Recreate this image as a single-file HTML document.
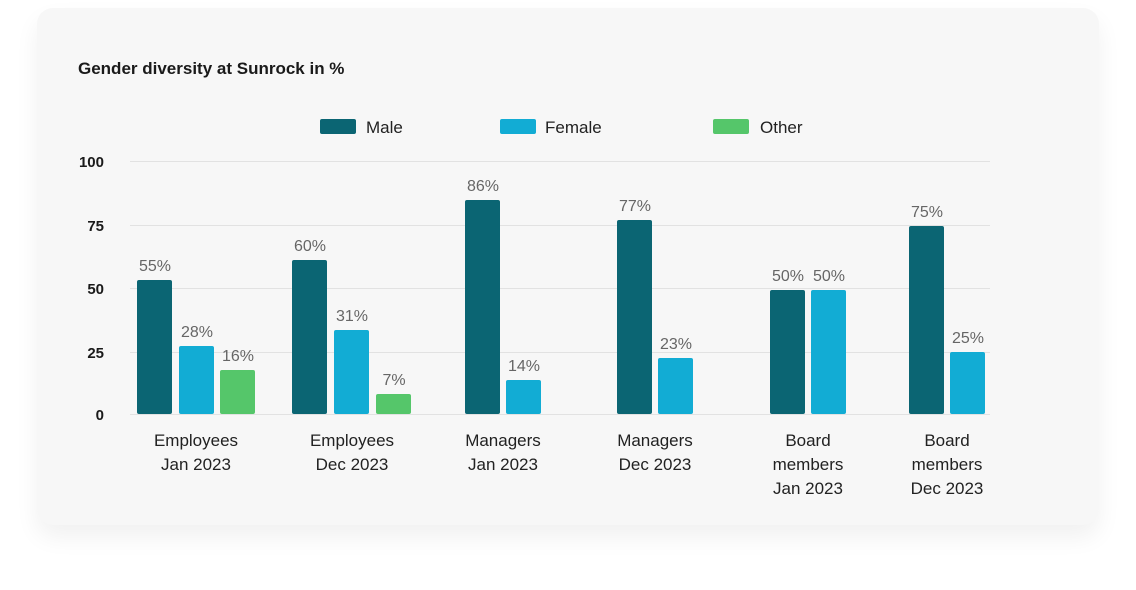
<!DOCTYPE html>
<html><head><style>
body{margin:0;width:1136px;height:590px;background:#fff;font-family:"Liberation Sans",sans-serif;position:relative;overflow:hidden}
.card{position:absolute;left:37px;top:8px;width:1062px;height:517px;background:#f7f7f7;border-radius:16px;box-shadow:0 12px 24px rgba(0,0,0,0.06)}
</style></head><body>
<div class="card"></div>
<svg width="1136" height="590" style="position:absolute;left:0;top:0" font-family="Liberation Sans, sans-serif">
<text x="78" y="74" font-size="17" font-weight="bold" fill="#1a1a1a">Gender diversity at Sunrock in %</text>
<rect x="320" y="119" width="36" height="15" rx="2" fill="#0b6573"/><text x="366" y="133" font-size="17" fill="#222">Male</text>
<rect x="500" y="119" width="36" height="15" rx="2" fill="#12acd4"/><text x="545" y="133" font-size="17" fill="#222">Female</text>
<rect x="713" y="119" width="36" height="15" rx="2" fill="#55c66a"/><text x="760" y="133" font-size="17" fill="#222">Other</text>
<g stroke="#e2e2e2" stroke-width="1">
<line x1="130" y1="161.5" x2="990" y2="161.5"/><line x1="130" y1="225.5" x2="990" y2="225.5"/><line x1="130" y1="288.5" x2="990" y2="288.5"/><line x1="130" y1="352.5" x2="990" y2="352.5"/><line x1="130" y1="414.5" x2="990" y2="414.5"/>
</g>
<g font-size="15" font-weight="bold" fill="#1a1a1a" text-anchor="end">
<text x="104" y="167">100</text><text x="104" y="231">75</text><text x="104" y="294">50</text><text x="104" y="358">25</text><text x="104" y="420">0</text>
</g>
<g>
<rect x="137" y="280" width="35" height="134" rx="2" fill="#0b6573"/>
<rect x="179" y="346" width="35" height="68" rx="2" fill="#12acd4"/>
<rect x="220" y="370" width="35" height="44" rx="2" fill="#55c66a"/>
<rect x="292" y="260" width="35" height="154" rx="2" fill="#0b6573"/>
<rect x="334" y="330" width="35" height="84" rx="2" fill="#12acd4"/>
<rect x="376" y="394" width="35" height="20" rx="2" fill="#55c66a"/>
<rect x="465" y="200" width="35" height="214" rx="2" fill="#0b6573"/>
<rect x="506" y="380" width="35" height="34" rx="2" fill="#12acd4"/>
<rect x="617" y="220" width="35" height="194" rx="2" fill="#0b6573"/>
<rect x="658" y="358" width="35" height="56" rx="2" fill="#12acd4"/>
<rect x="770" y="290" width="35" height="124" rx="2" fill="#0b6573"/>
<rect x="811" y="290" width="35" height="124" rx="2" fill="#12acd4"/>
<rect x="909" y="226" width="35" height="188" rx="2" fill="#0b6573"/>
<rect x="950" y="352" width="35" height="62" rx="2" fill="#12acd4"/>
</g>
<g font-size="16" fill="#666" text-anchor="middle">
<text x="155" y="271">55%</text><text x="197" y="337">28%</text><text x="238" y="361">16%</text>
<text x="310" y="251">60%</text><text x="352" y="321">31%</text><text x="394" y="385">7%</text>
<text x="483" y="191">86%</text><text x="524" y="371">14%</text>
<text x="635" y="211">77%</text><text x="676" y="349">23%</text>
<text x="788" y="281">50%</text><text x="829" y="281">50%</text>
<text x="927" y="217">75%</text><text x="968" y="343">25%</text>
</g>
<g font-size="17" fill="#222" text-anchor="middle">
<text x="196" y="446">Employees</text><text x="196" y="470">Jan 2023</text>
<text x="352" y="446">Employees</text><text x="352" y="470">Dec 2023</text>
<text x="503" y="446">Managers</text><text x="503" y="470">Jan 2023</text>
<text x="655" y="446">Managers</text><text x="655" y="470">Dec 2023</text>
<text x="808" y="446">Board</text><text x="808" y="470">members</text><text x="808" y="494">Jan 2023</text>
<text x="947" y="446">Board</text><text x="947" y="470">members</text><text x="947" y="494">Dec 2023</text>
</g>
</svg>
</body></html>
